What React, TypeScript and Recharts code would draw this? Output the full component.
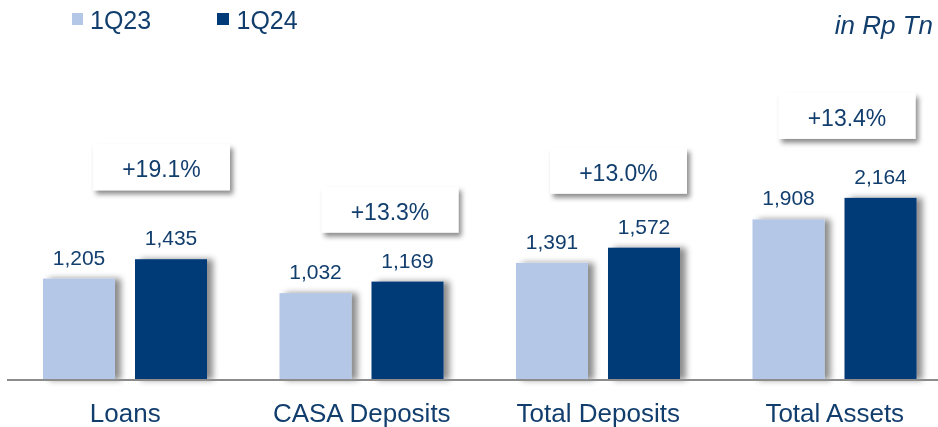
import React from 'react';
import { BarChart, Bar, XAxis, YAxis, LabelList, Legend } from 'recharts';

const categories = ['Loans', 'CASA Deposits', 'Total Deposits', 'Total Assets'];
const q23Values = [1205, 1032, 1391, 1908];
const q24Values = [1435, 1169, 1572, 2164];
const growthLabels = ['+19.1%', '+13.3%', '+13.0%', '+13.4%'];
const seriesNames = ['1Q23', '1Q24'];
const unitLabel = 'in Rp Tn';

const data = categories.map((name, i) => ({
  name,
  q23: q23Values[i],
  q24: q24Values[i],
  growth: growthLabels[i],
}));

const LIGHT = '#B4C7E7';
const DARK = '#003A78';
const TEXT = '#123E6E';
const FONT = '"Liberation Sans", Arial, sans-serif';

// layout offsets of the growth boxes relative to the 1Q24 bar (x, top)
const boxDx = [-42, -50, -58, -66];
const boxDy = [-115, -95, -100, -105];
const BOX_W = 137;
const BOX_H = 46;

const fmt = (v: number) => String(v).replace(/\B(?=(\d{3})+(?!\d))/g, ',');

const ShadowBar = (p: any) => (
  <rect x={p.x} y={p.y} width={p.width} height={p.height} fill={p.fill} filter="url(#barShadow)" />
);

const ValueLabel = (p: any) => (
  <text
    x={p.x + p.width / 2}
    y={p.y - 14}
    textAnchor="middle"
    fontSize={21}
    fontFamily={FONT}
    fill={TEXT}
  >
    {fmt(Number(p.value))}
  </text>
);

const GrowthBox = (p: any) => {
  const i = p.index;
  const bx = p.x + boxDx[i];
  const by = p.y + boxDy[i];
  return (
    <g>
      <rect x={bx} y={by} width={BOX_W} height={BOX_H} fill="#ffffff" filter="url(#boxShadow)" />
      <text
        x={bx + BOX_W / 2}
        y={by + 33}
        textAnchor="middle"
        fontSize={23}
        fontFamily={FONT}
        fill={TEXT}
      >
        {p.value}
      </text>
    </g>
  );
};

const CatTick = (p: any) => (
  <text x={p.x} y={p.y + 42} textAnchor="middle" fontSize={26} fontFamily={FONT} fill={TEXT}>
    {p.payload.value}
  </text>
);

const LegendContent = () => (
  <svg width={938} height={44} style={{ display: 'block', overflow: 'visible' }}>
    <defs>
      <filter id="barShadow" x="-20%" y="-10%" width="150%" height="120%">
        <feDropShadow dx="6" dy="0" stdDeviation="3" floodColor="#000" floodOpacity="0.45" />
      </filter>
      <filter id="boxShadow" x="-20%" y="-30%" width="140%" height="170%">
        <feDropShadow dx="3" dy="4" stdDeviation="2.5" floodColor="#000" floodOpacity="0.45" />
      </filter>
    </defs>
    <rect x={72} y={13} width={11} height={12} fill={LIGHT} />
    <text x={90} y={28.5} fontSize={25} fontFamily={FONT} fill={TEXT}>
      {seriesNames[0]}
    </text>
    <rect x={217} y={13} width={12} height={12} fill={DARK} />
    <text x={236.5} y={28.5} fontSize={25} fontFamily={FONT} fill={TEXT}>
      {seriesNames[1]}
    </text>
    <text
      x={933}
      y={33.5}
      textAnchor="end"
      fontSize={26}
      fontStyle="italic"
      fontFamily={FONT}
      fill={TEXT}
    >
      {unitLabel}
    </text>
  </svg>
);

export default function App() {
  return (
    <div style={{ position: 'fixed', left: 0, top: 0, width: 938, height: 427 }}>
      <BarChart
        width={938}
        height={427}
        data={data}
        margin={{ top: 60, right: -15, bottom: 7, left: 7 }}
        barSize={72}
        barGap={20}
      >
        <XAxis
          dataKey="name"
          height={40}
          tickLine={false}
          tickSize={0}
          tickMargin={0}
          axisLine={{ stroke: '#8C8C8C', strokeWidth: 2 }}
          tick={<CatTick />}
          interval={0}
        />
        <YAxis hide domain={[0, 3802]} />
        <Legend
          layout="horizontal"
          verticalAlign="middle"
          align="center"
          content={<LegendContent />}
          wrapperStyle={{ position: 'absolute', top: 0, left: 0, width: 938, height: 44 }}
        />
        <Bar dataKey="q23" name={seriesNames[0]} fill={LIGHT} shape={<ShadowBar />} isAnimationActive={false}>
          <LabelList dataKey="q23" content={<ValueLabel />} />
        </Bar>
        <Bar dataKey="q24" name={seriesNames[1]} fill={DARK} shape={<ShadowBar />} isAnimationActive={false}>
          <LabelList dataKey="q24" content={<ValueLabel />} />
          <LabelList dataKey="growth" content={<GrowthBox />} />
        </Bar>
      </BarChart>
    </div>
  );
}
